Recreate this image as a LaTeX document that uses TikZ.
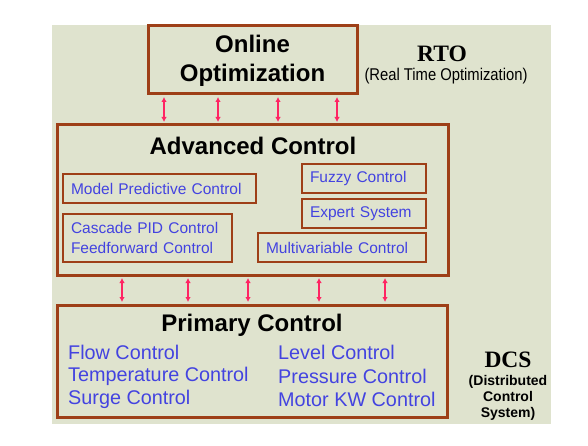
\documentclass[tikz,border=0pt]{standalone}
\usepackage{fontspec}
\setmainfont{Liberation Sans}
\newfontfamily\serifbold{Liberation Serif}
\usetikzlibrary{arrows.meta}

\definecolor{bgcol}{HTML}{DFE3CE}
\definecolor{boxbrown}{HTML}{9E3F17}
\definecolor{ctrlblue}{HTML}{4343E0}
\definecolor{linkred}{HTML}{FF2463}

\tikzset{
  levelbox/.style={draw=boxbrown, line width=3pt, inner sep=0pt},
  ctrlbox/.style={draw=boxbrown, line width=2.5pt, inner ysep=0pt, inner xsep=8pt,
    minimum height=29pt, align=left, text=ctrlblue, font=\fontsize{15.5}{20}\selectfont},
  title/.style={font=\fontsize{24}{29}\selectfont\bfseries},
  item/.style={anchor=west, inner sep=0pt, text=ctrlblue, font=\fontsize{19.8}{22}\selectfont},
  tag/.style={font=\fontsize{23.5}{26}\selectfont\serifbold\bfseries},
  link/.style={draw=linkred, line width=1.8pt, shorten <=1.5pt, shorten >=1.5pt,
    {Latex[length=5pt,width=5.5pt]}-{Latex[length=5pt,width=5.5pt]}}
}

\begin{document}
\begin{tikzpicture}[x=1pt,y=-1pt]
        \useasboundingbox (0,0) rectangle (588,446);
        \fill[bgcol] (52,25) rectangle (551,424);

        % RTO level
        \node[levelbox, minimum width=209pt, minimum height=68pt] (online) at (252.5,60) {};
        \node[title, align=center] (onlinetxt) at (252.5,61) {Online\\Optimization};
        \node[tag] (rto) at (442,54) {RTO};
        \node[xscale=0.87, font=\fontsize{17}{19}\selectfont] (rtonote) at (446,76) {(Real Time Optimization)};

        % Advanced control level
        \node[levelbox, minimum width=391pt, minimum height=150pt] (adv) at (252.5,200) {};
        \node[title] (advtxt) at (253,146) {Advanced Control};
        \node[ctrlbox, text width=177pt] (mpc) at (159.5,188.5) {Model Predictive Control};
        \node[ctrlbox, text width=153pt, minimum height=48pt] (cascade) at (147.5,238)
            {Cascade PID Control\\Feedforward Control};
        \node[ctrlbox, text width=108pt] (fuzzy) at (364,178.5) {Fuzzy Control};
        \node[ctrlbox, text width=108pt] (expert) at (364,213.5) {Expert System};
        \node[ctrlbox, text width=152pt] (multi) at (342,247.5) {Multivariable Control};

        % Primary control level
        \node[levelbox, minimum width=390pt, minimum height=112pt] (primary) at (252,361) {};
        \node[title] (primtxt) at (252,325) {Primary Control};
        \node[item] (flow) at (68,352) {Flow Control};
        \node[item] (temp) at (68,376) {Temperature Control};
        \node[item] (surge) at (68,399) {Surge Control};
        \node[item] (level) at (278,352) {Level Control};
        \node[item] (press) at (278,376) {Pressure Control};
        \node[item] (motor) at (278,399) {Motor KW Control};
        \node[tag] (dcs) at (508,360) {DCS};
        \node[align=center, font=\fontsize{14}{16}\selectfont\bfseries] (dcsnote) at (508,398)
            {(Distributed\\Control\\System)};

        % Links
        \foreach \x in {164,218,278,337}
            \draw[link] (\x,0 |- online.south) -- (\x,0 |- adv.north);
        \foreach \x in {122,188,248,319,385}
            \draw[link] (\x,0 |- adv.south) -- (\x,0 |- primary.north);
\end{tikzpicture}
\end{document}
